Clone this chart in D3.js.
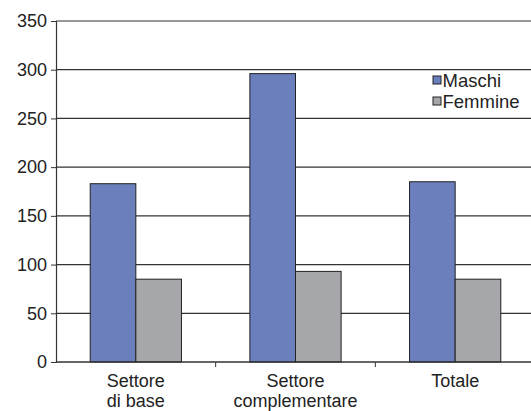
<!DOCTYPE html>
<html>
<head>
<meta charset="utf-8">
<script src="https://cdn.jsdelivr.net/npm/d3@7"></script>
<style>
  body { margin: 0; background: #fff; }
  text { font-family: "Liberation Sans", Arial, sans-serif; fill: #222; }
</style>
</head>
<body>
<div id="chart"></div>
<script>
const categories = [["Settore", "di base"], ["Settore", "complementare"], ["Totale"]];
const seriesNames = ["Maschi", "Femmine"];
const maschi = [183, 296, 185];
const femmine = [85, 93, 85];
const yTicks = [0, 50, 100, 150, 200, 250, 300, 350];
const colors = ["#6b7fbd", "#a6a7aa"];

const width = 531, height = 411;
const margin = {top: 21, right: -4, bottom: 49, left: 56};
const w = width - margin.left - margin.right;
const h = height - margin.top - margin.bottom;

const svg = d3.select("#chart").append("svg")
  .attr("width", width)
  .attr("height", height);

const g = svg.append("g")
  .attr("transform", `translate(${margin.left},${margin.top})`);

const x = d3.scaleBand().domain(d3.range(categories.length)).range([0, w]);
const xs = d3.scaleBand().domain(seriesNames).range([0, x.bandwidth()]).paddingInner(0).paddingOuter(0.75);
const y = d3.scaleLinear().domain([0, 350]).range([h, 0]);

// gridlines
g.selectAll(".grid").data(yTicks.filter(d => d > 0)).enter().append("line")
  .attr("x1", 0).attr("x2", w)
  .attr("y1", d => y(d)).attr("y2", d => y(d))
  .attr("stroke", "#333").attr("stroke-width", 1.2);

// bars
const data = seriesNames.map((s, i) => ({name: s, values: i === 0 ? maschi : femmine, color: colors[i]}));
data.forEach(s => {
  g.selectAll(null).data(s.values).enter().append("rect")
    .attr("x", (d, i) => x(i) + xs(s.name))
    .attr("y", d => y(d))
    .attr("width", xs.bandwidth())
    .attr("height", d => h - y(d))
    .attr("fill", s.color)
    .attr("stroke", "#222").attr("stroke-width", 1);
});

// y axis
const yAxis = g.append("g")
  .call(d3.axisLeft(y).tickValues(yTicks).tickSize(5).tickPadding(4));
yAxis.select(".domain").attr("stroke", "#333").attr("stroke-width", 1.2);
yAxis.selectAll(".tick line").attr("stroke", "#333");
yAxis.selectAll("text").style("font-size", "18px").attr("fill", "#222");

// x axis
const xAxis = g.append("g").attr("transform", `translate(0,${h})`);
xAxis.append("line").attr("x1", 0).attr("x2", w).attr("stroke", "#333").attr("stroke-width", 1.5);
xAxis.selectAll(".xt").data(d3.range(1, categories.length)).enter().append("line")
  .attr("x1", d => x(d)).attr("x2", d => x(d))
  .attr("y1", 0).attr("y2", 5).attr("stroke", "#333");

// category labels, one text per line
categories.forEach((lines, i) => {
  lines.forEach((line, j) => {
    xAxis.append("text")
      .attr("text-anchor", "middle")
      .style("font-size", "18px")
      .attr("x", x(i) + x.bandwidth() / 2)
      .attr("y", 25 + j * 20)
      .text(line);
  });
});

// legend
const legend = svg.append("g").attr("transform", "translate(433,76)");
seriesNames.forEach((s, i) => {
  const row = legend.append("g").attr("transform", `translate(0,${i * 21})`);
  row.append("rect").attr("x", 0).attr("y", 0).attr("width", 8).attr("height", 8)
    .attr("fill", colors[i]).attr("stroke", "#222").attr("stroke-width", 1);
  row.append("text").attr("x", 9.5).attr("y", 10.5).style("font-size", "18.5px").text(s);
});
</script>
</body>
</html>
